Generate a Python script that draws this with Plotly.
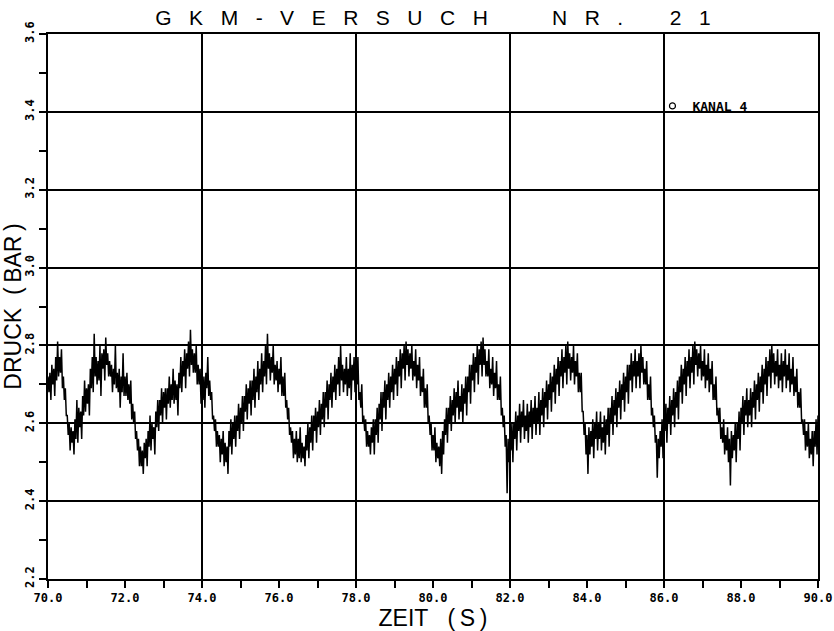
import plotly.graph_objects as go

# Pressure record, channel 4, sampled every 0.025 s from 70.0 s to 90.0 s
T_START = 70.0
DT = 0.025

kanal4_70_75 = [
    2.72, 2.68, 2.73, 2.66, 2.75, 2.70, 2.74, 2.67, 2.77, 2.71, 2.81, 2.72, 2.77, 2.73, 2.79, 2.69, 2.72, 2.66, 2.69, 2.62,
    2.62, 2.57, 2.60, 2.53, 2.59, 2.55, 2.58, 2.52, 2.61, 2.56, 2.66, 2.55, 2.64, 2.59, 2.63, 2.56, 2.67, 2.62, 2.71, 2.63,
    2.69, 2.65, 2.70, 2.62, 2.74, 2.69, 2.77, 2.68, 2.83, 2.72, 2.77, 2.70, 2.76, 2.71, 2.80, 2.67, 2.78, 2.74, 2.79, 2.71,
    2.82, 2.75, 2.78, 2.72, 2.76, 2.72, 2.75, 2.68, 2.74, 2.70, 2.80, 2.69, 2.73, 2.68, 2.74, 2.64, 2.72, 2.68, 2.78, 2.67,
    2.72, 2.67, 2.73, 2.66, 2.70, 2.65, 2.71, 2.61, 2.65, 2.60, 2.63, 2.56, 2.58, 2.53, 2.56, 2.49, 2.54, 2.49, 2.53, 2.47,
    2.55, 2.51, 2.56, 2.49, 2.58, 2.54, 2.62, 2.53, 2.60, 2.56, 2.59, 2.52, 2.63, 2.59, 2.66, 2.58, 2.66, 2.62, 2.69, 2.60,
    2.68, 2.64, 2.69, 2.61, 2.69, 2.65, 2.72, 2.64, 2.70, 2.66, 2.74, 2.65, 2.71, 2.66, 2.70, 2.62, 2.73, 2.69, 2.77, 2.68,
    2.76, 2.72, 2.79, 2.69, 2.78, 2.74, 2.81, 2.72, 2.84, 2.75, 2.79, 2.73, 2.78, 2.73, 2.80, 2.70, 2.75, 2.70, 2.74, 2.65,
    2.70, 2.66, 2.72, 2.64, 2.73, 2.69, 2.77, 2.67, 2.71, 2.66, 2.68, 2.61, 2.62, 2.58, 2.61, 2.54, 2.58, 2.54, 2.57, 2.50,
    2.56, 2.52, 2.58, 2.49, 2.55, 2.50, 2.54, 2.47, 2.58, 2.54, 2.61, 2.52, 2.60, 2.56, 2.62, 2.54, 2.62, 2.58, 2.65, 2.56,
]
kanal4_75_80 = [
    2.64, 2.60, 2.67, 2.58, 2.67, 2.63, 2.70, 2.61, 2.69, 2.65, 2.71, 2.62, 2.71, 2.66, 2.74, 2.64, 2.72, 2.68, 2.76, 2.66,
    2.74, 2.70, 2.78, 2.68, 2.76, 2.72, 2.80, 2.70, 2.83, 2.74, 2.78, 2.71, 2.77, 2.73, 2.80, 2.70, 2.75, 2.71, 2.76, 2.68,
    2.74, 2.70, 2.77, 2.67, 2.72, 2.67, 2.73, 2.64, 2.66, 2.61, 2.64, 2.57, 2.59, 2.55, 2.58, 2.51, 2.56, 2.52, 2.58, 2.50,
    2.56, 2.51, 2.59, 2.50, 2.55, 2.51, 2.54, 2.49, 2.57, 2.53, 2.60, 2.51, 2.59, 2.55, 2.62, 2.53, 2.62, 2.58, 2.64, 2.55,
    2.63, 2.59, 2.66, 2.57, 2.65, 2.61, 2.68, 2.59, 2.68, 2.64, 2.71, 2.61, 2.70, 2.66, 2.73, 2.64, 2.72, 2.68, 2.75, 2.66,
    2.74, 2.70, 2.77, 2.67, 2.80, 2.71, 2.75, 2.68, 2.74, 2.70, 2.77, 2.67, 2.74, 2.69, 2.78, 2.66, 2.75, 2.71, 2.77, 2.68,
    2.74, 2.70, 2.77, 2.66, 2.68, 2.64, 2.70, 2.60, 2.62, 2.58, 2.61, 2.54, 2.58, 2.54, 2.57, 2.52, 2.59, 2.55, 2.61, 2.52,
    2.61, 2.57, 2.64, 2.55, 2.65, 2.61, 2.68, 2.58, 2.68, 2.64, 2.71, 2.61, 2.70, 2.66, 2.73, 2.64, 2.72, 2.68, 2.75, 2.66,
    2.74, 2.70, 2.77, 2.67, 2.76, 2.72, 2.79, 2.69, 2.78, 2.74, 2.80, 2.71, 2.81, 2.75, 2.79, 2.72, 2.78, 2.74, 2.80, 2.71,
    2.76, 2.72, 2.79, 2.69, 2.75, 2.71, 2.77, 2.67, 2.72, 2.68, 2.74, 2.64, 2.69, 2.64, 2.70, 2.60, 2.62, 2.57, 2.60, 2.53,
]
kanal4_80_85 = [
    2.57, 2.53, 2.59, 2.50, 2.55, 2.51, 2.54, 2.49, 2.56, 2.47, 2.58, 2.52, 2.61, 2.57, 2.64, 2.55, 2.64, 2.60, 2.67, 2.58,
    2.66, 2.62, 2.69, 2.60, 2.68, 2.64, 2.71, 2.61, 2.67, 2.63, 2.70, 2.60, 2.69, 2.65, 2.72, 2.62, 2.72, 2.68, 2.75, 2.65,
    2.75, 2.71, 2.78, 2.68, 2.77, 2.73, 2.80, 2.70, 2.79, 2.75, 2.81, 2.72, 2.82, 2.75, 2.79, 2.72, 2.76, 2.72, 2.79, 2.69,
    2.74, 2.70, 2.77, 2.67, 2.73, 2.69, 2.76, 2.66, 2.70, 2.66, 2.72, 2.62, 2.64, 2.59, 2.62, 2.54, 2.57, 2.42, 2.56, 2.50,
    2.57, 2.53, 2.60, 2.50, 2.60, 2.56, 2.63, 2.53, 2.62, 2.58, 2.65, 2.55, 2.63, 2.59, 2.66, 2.56, 2.62, 2.58, 2.65, 2.55,
    2.63, 2.59, 2.66, 2.56, 2.64, 2.60, 2.67, 2.57, 2.64, 2.60, 2.68, 2.57, 2.66, 2.62, 2.69, 2.59, 2.68, 2.64, 2.71, 2.61,
    2.70, 2.66, 2.73, 2.63, 2.72, 2.68, 2.75, 2.65, 2.74, 2.70, 2.77, 2.67, 2.76, 2.72, 2.79, 2.69, 2.77, 2.73, 2.80, 2.70,
    2.81, 2.74, 2.78, 2.71, 2.77, 2.73, 2.80, 2.70, 2.76, 2.72, 2.78, 2.68, 2.73, 2.68, 2.73, 2.63, 2.63, 2.57, 2.60, 2.52,
    2.57, 2.47, 2.59, 2.52, 2.58, 2.54, 2.61, 2.51, 2.60, 2.56, 2.63, 2.53, 2.60, 2.56, 2.63, 2.53, 2.59, 2.55, 2.62, 2.52,
    2.61, 2.57, 2.64, 2.54, 2.64, 2.60, 2.67, 2.57, 2.66, 2.62, 2.69, 2.59, 2.68, 2.64, 2.71, 2.61, 2.70, 2.66, 2.73, 2.63,
]
kanal4_85_90 = [
    2.72, 2.68, 2.75, 2.65, 2.75, 2.71, 2.78, 2.68, 2.76, 2.72, 2.79, 2.69, 2.76, 2.72, 2.78, 2.69, 2.80, 2.73, 2.77, 2.70,
    2.74, 2.70, 2.76, 2.66, 2.70, 2.66, 2.72, 2.62, 2.64, 2.59, 2.62, 2.55, 2.57, 2.46, 2.56, 2.51, 2.58, 2.54, 2.61, 2.51,
    2.62, 2.58, 2.65, 2.55, 2.64, 2.60, 2.67, 2.57, 2.66, 2.62, 2.69, 2.59, 2.68, 2.64, 2.71, 2.61, 2.72, 2.68, 2.75, 2.65,
    2.74, 2.70, 2.77, 2.67, 2.76, 2.72, 2.79, 2.69, 2.77, 2.73, 2.80, 2.70, 2.81, 2.75, 2.79, 2.72, 2.78, 2.74, 2.80, 2.71,
    2.76, 2.72, 2.79, 2.69, 2.75, 2.71, 2.78, 2.68, 2.74, 2.70, 2.76, 2.66, 2.70, 2.66, 2.72, 2.62, 2.64, 2.60, 2.64, 2.56,
    2.59, 2.55, 2.61, 2.52, 2.57, 2.53, 2.59, 2.50, 2.56, 2.44, 2.58, 2.51, 2.57, 2.53, 2.60, 2.50, 2.60, 2.56, 2.63, 2.53,
    2.64, 2.60, 2.67, 2.57, 2.66, 2.62, 2.69, 2.59, 2.66, 2.62, 2.69, 2.59, 2.68, 2.64, 2.71, 2.61, 2.70, 2.66, 2.73, 2.63,
    2.72, 2.68, 2.75, 2.65, 2.74, 2.70, 2.77, 2.67, 2.76, 2.72, 2.79, 2.69, 2.80, 2.73, 2.78, 2.70, 2.76, 2.72, 2.79, 2.69,
    2.75, 2.71, 2.78, 2.68, 2.76, 2.72, 2.79, 2.69, 2.75, 2.71, 2.78, 2.68, 2.74, 2.70, 2.77, 2.67, 2.72, 2.68, 2.74, 2.64,
    2.68, 2.64, 2.69, 2.60, 2.61, 2.57, 2.61, 2.53, 2.58, 2.54, 2.60, 2.51, 2.56, 2.52, 2.58, 2.49, 2.58, 2.54, 2.61, 2.52,
    2.62,
]

druck = kanal4_70_75 + kanal4_75_80 + kanal4_80_85 + kanal4_85_90
zeit = [round(T_START + i * DT, 3) for i in range(len(druck))]

X_RANGE = [70.0, 90.0]
Y_RANGE = [2.2, 3.6]

NB = "\u00a0"
THIN = "\u2009"
title_text = (
    (NB * 3).join("GKM-VERSUCH")
    + NB * 11
    + (NB * 3).join("NR.")
    + NB * 8
    + (NB * 3).join("21")
)

fig = go.Figure()

fig.add_trace(go.Scatter(
    x=zeit, y=druck, mode="lines",
    line=dict(color="black", width=1.5),
    name="KANAL 4", legendgroup="k4", showlegend=False,
    hoverinfo="skip",
))
# legend entry: open circle symbol for the channel
fig.add_trace(go.Scatter(
    x=[None], y=[None], mode="markers", xaxis="x2",
    marker=dict(symbol="circle-open", size=6, color="black", line=dict(width=1.2)),
    name="KANAL 4", legendgroup="k4", showlegend=True,
))

tick_font = dict(family="DejaVu Sans Mono", size=12, color="black", weight="bold")
label_font = dict(family="Liberation Sans", size=23, color="black")

fig.update_layout(
    width=834, height=631,
    margin=dict(l=48, r=16, t=34, b=52),
    paper_bgcolor="white", plot_bgcolor="white",
    title=dict(
        text=title_text, x=0.5, xref="paper", y=1 - 18 / 631, yanchor="middle",
        font=dict(family="Liberation Sans", size=21, color="black"),
    ),
    showlegend=True,
    legend=dict(
        x=0.785, xanchor="left", y=0.868, yanchor="middle",
        bgcolor="rgba(0,0,0,0)", borderwidth=0,
        font=dict(family="DejaVu Sans Mono", size=13, color="black", weight="bold"),
        itemwidth=30,
    ),
    xaxis=dict(
        range=X_RANGE, tick0=70, dtick=2, tickformat=".1f",
        showgrid=False, zeroline=False,
        showline=True, linecolor="black", linewidth=2, mirror=True,
        ticks="outside", ticklen=7, tickwidth=1.5, tickcolor="black",
        minor=dict(dtick=1, ticks="outside", ticklen=7, tickwidth=1.5,
                   tickcolor="black", showgrid=False),
        tickfont=tick_font,
        title=dict(text="ZEIT" + NB * 3 + "(" + THIN + "S" + THIN + ")",
                   font=label_font, standoff=0),
        automargin=False,
    ),
    xaxis2=dict(
        range=X_RANGE, overlaying="x", anchor="y", side="bottom",
        tick0=70, dtick=4, showgrid=True, gridcolor="black", gridwidth=1.5,
        showticklabels=False, ticks="", showline=False, zeroline=False,
    ),
    yaxis=dict(
        range=Y_RANGE, tick0=2.2, dtick=0.2, tickformat=".1f",
        showgrid=True, gridcolor="black", gridwidth=1.5, zeroline=False,
        showline=True, linecolor="black", linewidth=2, mirror=True,
        ticks="outside", ticklen=7, tickwidth=1.5, tickcolor="black",
        minor=dict(dtick=0.1, ticks="outside", ticklen=7, tickwidth=1.5,
                   tickcolor="black", showgrid=False),
        tickangle=-90, tickfont=tick_font,
        title=dict(text="DRUCK" + NB * 2 + "(" + THIN + "BAR" + THIN + ")",
                   font=label_font, standoff=2),
        automargin=False,
    ),
)

fig.write_html("out.html")
